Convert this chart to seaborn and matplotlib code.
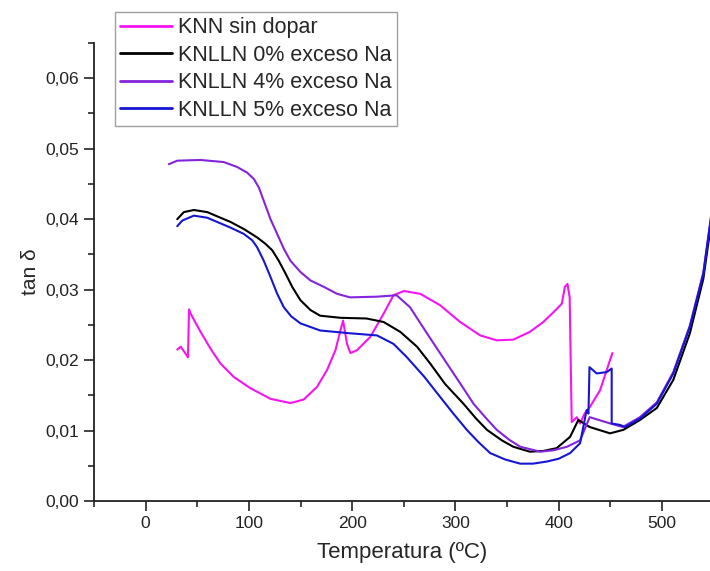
import matplotlib
matplotlib.use("Agg")
import matplotlib.pyplot as plt
from matplotlib.ticker import MultipleLocator, FuncFormatter
import seaborn as sns
import pandas as pd

# Loss tangent vs temperature for undoped KNN and KNLLN with Na excess
labels = ["KNN sin dopar", "KNLLN 0% exceso Na", "KNLLN 4% exceso Na", "KNLLN 5% exceso Na"]
colors = ["#F614F0", "#000000", "#8424DC", "#1616D2"]

knn_t = [30.6, 34, 41, 42, 43.5, 53.2, 62.9, 72.5, 85.4, 101.5, 120.9, 140.2, 153.1, 166,
         175.7, 183.8, 188.6, 191.2, 195, 198.3, 204.7, 217.6, 230.5, 240, 250, 266, 285,
         304.6, 324, 340, 356, 372, 385, 395, 403, 406, 408.5, 410.6, 412.6, 417.5, 420.7,
         425, 430.4, 440, 449.7, 452]
knn_tan = [0.0215, 0.0219, 0.0204, 0.0272, 0.0266, 0.0240, 0.0216, 0.0195, 0.0176, 0.0160,
           0.0145, 0.0139, 0.0144, 0.0162, 0.0186, 0.0214, 0.0242, 0.0256, 0.0223, 0.0210,
           0.0214, 0.0233, 0.0266, 0.0292, 0.0298, 0.0294, 0.0278, 0.0254, 0.0235, 0.0228,
           0.0229, 0.0240, 0.0254, 0.0268, 0.0280, 0.0304, 0.0308, 0.0289, 0.0112, 0.0119,
           0.0110, 0.0124, 0.0134, 0.0157, 0.0200, 0.0210]

k0_t = [30.6, 37, 46.7, 59.7, 69.3, 82.2, 95.1, 108, 116, 122.5, 128.9, 135.4, 141.9,
        149.9, 159.6, 169, 188.6, 214, 230.5, 246.6, 262.8, 275.6, 290, 307.8, 320, 330.5,
        345, 356, 372, 385, 398, 411, 419, 430, 449.7, 462.6, 478.7, 495, 511, 527, 540, 552]
k0_tan = [0.0400, 0.0410, 0.0413, 0.0410, 0.0404, 0.0396, 0.0386, 0.0374, 0.0365, 0.0356,
          0.0341, 0.0323, 0.0304, 0.0285, 0.0271, 0.0263, 0.0260, 0.0259, 0.0254, 0.0240,
          0.0219, 0.0195, 0.0166, 0.0138, 0.0117, 0.0101, 0.0086, 0.0077, 0.0070, 0.0071,
          0.0075, 0.0091, 0.0115, 0.0105, 0.0096, 0.0101, 0.0115, 0.0132, 0.0172, 0.0238,
          0.0315, 0.0440]

k4_t = [22.5, 30.6, 53.2, 75.7, 88.7, 98.3, 104.8, 109.6, 114.4, 120.9, 127.4, 133.8,
        140.2, 149.9, 159.6, 172.4, 185.4, 198, 224, 243, 256, 272.4, 291.8, 305, 317.5,
        330, 340, 352, 362.7, 382, 395, 408, 420.7, 430, 450, 462, 478.7, 495, 511, 527,
        540, 552]
k4_tan = [0.0478, 0.0483, 0.0484, 0.0481, 0.0474, 0.0466, 0.0457, 0.0445, 0.0426, 0.0400,
          0.0379, 0.0358, 0.0341, 0.0325, 0.0313, 0.0304, 0.0294, 0.0289, 0.0290, 0.0292,
          0.0275, 0.0238, 0.0195, 0.0166, 0.0138, 0.0117, 0.0101, 0.0087, 0.0077, 0.0070,
          0.0072, 0.0077, 0.0086, 0.0119, 0.0110, 0.0105, 0.0119, 0.0140, 0.0183, 0.0249,
          0.0324, 0.0452]

k5_t = [30.6, 35.5, 46.7, 59.7, 69.3, 82.2, 95.1, 103.2, 108, 114.4, 120.9, 127.4, 133.8,
        141, 150, 169, 198, 224, 240, 253, 270, 285, 298, 311, 322, 333.6, 348, 362.7, 375,
        388.5, 400, 411, 420.7, 427, 428.8, 429.8, 436.8, 446.5, 451.3, 451.3, 459.4, 464,
        478.7, 495, 511, 527, 540, 552]
k5_tan = [0.0390, 0.0398, 0.0405, 0.0402, 0.0396, 0.0388, 0.0379, 0.0370, 0.0360, 0.0341,
          0.0318, 0.0294, 0.0275, 0.0262, 0.0252, 0.0242, 0.0238, 0.0235, 0.0223, 0.0204,
          0.0176, 0.0148, 0.0124, 0.0101, 0.0084, 0.0068, 0.0059, 0.0053, 0.0053, 0.0056,
          0.0060, 0.0068, 0.0082, 0.0129, 0.0124, 0.0190, 0.0181, 0.0183, 0.0188, 0.0110,
          0.0108, 0.0105, 0.0117, 0.0138, 0.0181, 0.0247, 0.0322, 0.0450]

series_t = [knn_t, k0_t, k4_t, k5_t]
series_tan = [knn_tan, k0_tan, k4_tan, k5_tan]

sns.set_style("ticks")
plt.rcParams["font.family"] = ["Liberation Sans", "DejaVu Sans"]

fig = plt.figure(figsize=(7.10, 5.71), dpi=100)
ax = fig.add_axes([94 / 710, 70 / 571, 616 / 710, 458 / 571])

for lab, col, t, v in zip(labels, colors, series_t, series_tan):
    df = pd.DataFrame({"T": t, "tan": v})
    sns.lineplot(data=df, x="T", y="tan", ax=ax, color=col, label=lab,
                 sort=False, estimator=None, linewidth=1.5)

ax.set_xlim(-50, 546.5)
ax.set_ylim(0, 0.065)
ax.xaxis.set_major_locator(MultipleLocator(100))
ax.xaxis.set_minor_locator(MultipleLocator(50))
ax.yaxis.set_major_locator(MultipleLocator(0.01))
ax.yaxis.set_minor_locator(MultipleLocator(0.005))
ax.yaxis.set_major_formatter(FuncFormatter(lambda v, p: f"{v:.2f}".replace(".", ",")))
ax.xaxis.set_major_formatter(FuncFormatter(lambda v, p: f"{v:.0f}"))

ax.tick_params(which="major", direction="out", length=7, width=1.2, labelsize=12.5, colors="#222222")
ax.tick_params(which="minor", direction="out", length=4, width=1.2)
for s in ["top", "right"]:
    ax.spines[s].set_visible(False)
for s in ["left", "bottom"]:
    ax.spines[s].set_linewidth(1.3)
    ax.spines[s].set_color("#222222")

ax.set_xlabel("Temperatura (ºC)", fontsize=16, labelpad=8)
ax.set_ylabel("tan δ", fontsize=15, labelpad=4)

leg = ax.legend(loc="upper left", bbox_to_anchor=(115 / 710, 1 - 12 / 571),
                bbox_transform=fig.transFigure, borderaxespad=0, fontsize=15.5,
                frameon=True, fancybox=False, handlelength=2.4, handletextpad=0.27,
                labelspacing=0.3, borderpad=0.25)
leg.get_frame().set_edgecolor("#888888")
leg.get_frame().set_linewidth(1.0)
for line in leg.get_lines():
    line.set_linewidth(2.0)

fig.savefig("out.png", dpi=100)
